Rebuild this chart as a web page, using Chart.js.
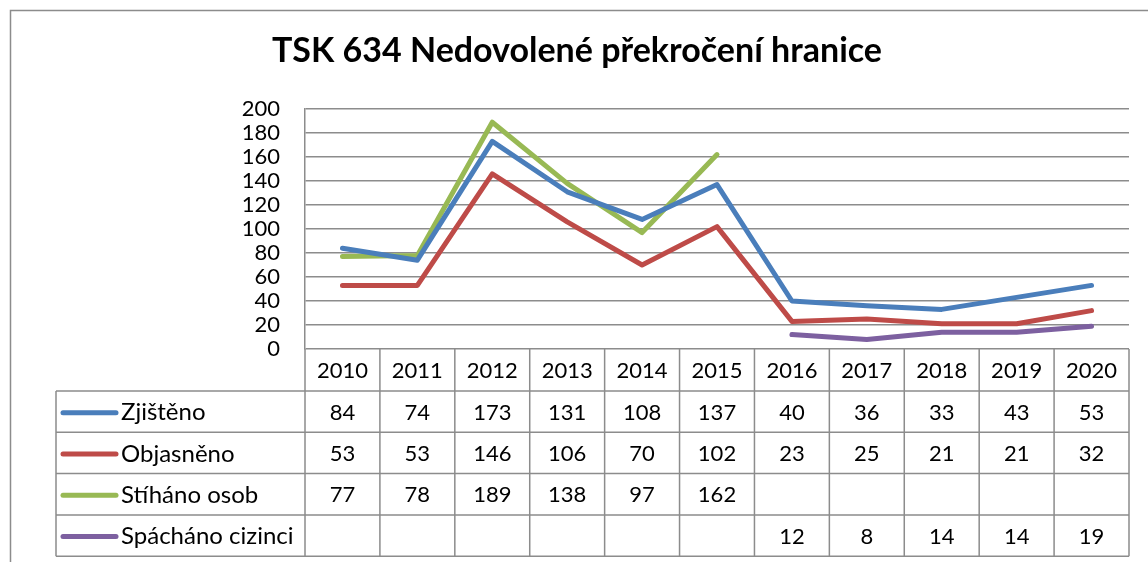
<!DOCTYPE html>
<html>
<head>
<meta charset="utf-8">
<script src="https://cdn.jsdelivr.net/npm/chart.js@4/dist/chart.umd.min.js"></script>
<style>
  html, body { margin: 0; padding: 0; background: #fff; }
  #wrap { width: 1148px; height: 562px; }
</style>
</head>
<body>
<div id="wrap"><canvas id="chart" width="1148" height="562"></canvas></div>
<script>
const years = ["2010", "2011", "2012", "2013", "2014", "2015", "2016", "2017", "2018", "2019", "2020"];
const zjisteno = [84, 74, 173, 131, 108, 137, 40, 36, 33, 43, 53];
const objasneno = [53, 53, 146, 106, 70, 102, 23, 25, 21, 21, 32];
const stihano = [77, 78, 189, 138, 97, 162, null, null, null, null, null];
const spachano = [null, null, null, null, null, null, 12, 8, 14, 14, 19];
const seriesNames = ["Zjištěno", "Objasněno", "Stíháno osob", "Spácháno cizinci"];
const seriesColors = ["#4a7ebb", "#be4b48", "#98b954", "#7d60a0"];
const yTicks = [0, 20, 40, 60, 80, 100, 120, 140, 160, 180, 200];
const titleText = "TSK 634 Nedovolené překročení hranice";

const FONT = "Lato, 'Open Sans', sans-serif";
const GRID = "#8c8c8c";

const seriesData = [zjisteno, objasneno, stihano, spachano];

// title, outer frame and the data table under the plot
const tablePlugin = {
  id: "dataTable",
  afterDraw(chart) {
    const ctx = chart.ctx;
    const x = chart.scales.x;
    const area = chart.chartArea;
    const step = x.getPixelForValue(1) - x.getPixelForValue(0);
    const legendLeft = 56;
    const headerH = 42;
    const rowH = 41.3;
    const top = area.bottom;

    ctx.save();
    // frame
    ctx.strokeStyle = GRID;
    ctx.lineWidth = 1.5;
    ctx.beginPath();
    ctx.moveTo(10.5, 600);
    ctx.lineTo(10.5, 10.5);
    ctx.lineTo(1200, 10.5);
    ctx.stroke();

    // title
    ctx.fillStyle = "#000";
    ctx.font = "bold 34px " + FONT;
    ctx.textAlign = "center";
    ctx.textBaseline = "alphabetic";
    ctx.fillText(titleText, 577, 62);

    // grid of the table
    const bottom = top + headerH + rowH * seriesData.length;
    ctx.beginPath();
    years.forEach((y, i) => {
      const bx = x.getPixelForValue(i) + step / 2;
      ctx.moveTo(bx, top);
      ctx.lineTo(bx, bottom);
    });
    ctx.moveTo(area.left, top);
    ctx.lineTo(area.left, bottom);
    ctx.moveTo(legendLeft, top + headerH);
    ctx.lineTo(legendLeft, bottom);
    for (let r = 0; r <= seriesData.length; r++) {
      const ry = top + headerH + r * rowH;
      ctx.moveTo(legendLeft, ry);
      ctx.lineTo(area.right, ry);
    }
    ctx.stroke();

    // header
    ctx.font = "22px " + FONT;
    ctx.textBaseline = "middle";
    ctx.textAlign = "center";
    years.forEach((y, i) => ctx.fillText(y, x.getPixelForValue(i), top + headerH / 2 + 1));

    // rows
    seriesData.forEach((vals, r) => {
      const cy = top + headerH + r * rowH + rowH / 2 + 1;
      ctx.strokeStyle = seriesColors[r];
      ctx.lineWidth = 5;
      ctx.lineCap = "round";
      ctx.beginPath();
      ctx.moveTo(63, cy);
      ctx.lineTo(116, cy);
      ctx.stroke();
      ctx.font = "24px " + FONT;
      ctx.textAlign = "left";
      ctx.fillText(seriesNames[r], 121, cy);
      ctx.font = "22px " + FONT;
      ctx.textAlign = "center";
      vals.forEach((v, i) => {
        if (v !== null) ctx.fillText(String(v), x.getPixelForValue(i), cy);
      });
    });
    ctx.restore();
  }
};

new Chart(document.getElementById("chart"), {
  type: "line",
  data: {
    labels: years,
    datasets: seriesData.map((vals, i) => ({
      label: seriesNames[i],
      data: vals,
      borderColor: seriesColors[i],
      backgroundColor: seriesColors[i],
      borderWidth: 5,
      pointRadius: 0,
      borderCapStyle: "round",
      borderJoinStyle: "round",
      tension: 0,
      spanGaps: false,
    })),
  },
  options: {
    responsive: false,
    animation: false,
    layout: { padding: { left: 0, right: 19, top: 109, bottom: 213 } },
    plugins: { legend: { display: false }, title: { display: false }, tooltip: { enabled: false } },
    scales: {
      x: {
        display: false,
        offset: true,
      },
      y: {
        min: 0,
        max: 200,
        afterFit: (s) => { s.width = 305; },
        afterBuildTicks: (s) => { s.ticks = yTicks.map((v) => ({ value: v })); },
        border: { display: true, color: GRID, width: 1.5 },
        grid: { color: GRID, lineWidth: 1.5, drawTicks: false },
        ticks: { color: "#000", font: { family: FONT, size: 22 }, padding: 25, autoSkip: false },
      },
    },
  },
  plugins: [tablePlugin],
});
</script>
</body>
</html>
